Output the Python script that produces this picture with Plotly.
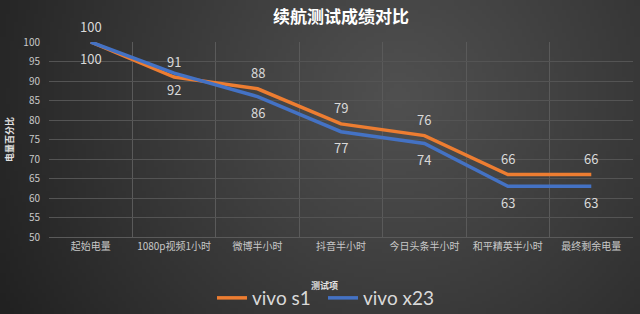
import plotly.graph_objects as go
import zlib, struct, base64, math

categories = ["起始电量", "1080p视频1小时", "微博半小时", "抖音半小时", "今日头条半小时", "和平精英半小时", "最终剩余电量"]
vivo_s1 = [100, 91, 88, 79, 76, 66, 66]
vivo_x23 = [100, 92, 86, 77, 74, 63, 63]
y_ticks = [50, 55, 60, 65, 70, 75, 80, 85, 90, 95, 100]

# background radial gradient as a small PNG
def make_png(w, h):
    rows = b""
    cx, cy = 0.62 * w, 0.30 * h
    inner = (80, 80, 80)
    outer = (32, 32, 32)
    maxd = math.hypot(w * 0.62, h * 0.75)
    for j in range(h):
        row = b"\x00"
        for i in range(w):
            d = math.hypot((i - cx), (j - cy) * (w / h) * 0.5) / maxd
            t = min(1.0, d)
            t = t ** 1.1
            c = [int(inner[k] + (outer[k] - inner[k]) * t) for k in range(3)]
            row += bytes(c)
        rows += row
    def chunk(tag, data):
        return struct.pack(">I", len(data)) + tag + data + struct.pack(">I", zlib.crc32(tag + data) & 0xffffffff)
    png = b"\x89PNG\r\n\x1a\n"
    png += chunk(b"IHDR", struct.pack(">IIBBBBB", w, h, 8, 2, 0, 0, 0))
    png += chunk(b"IDAT", zlib.compress(rows, 9))
    png += chunk(b"IEND", b"")
    return "data:image/png;base64," + base64.b64encode(png).decode()

bg = make_png(160, 80)

font_cjk = "Noto Sans CJK SC"
PW, PH, L, T = 584, 195, 49, 42

fig = go.Figure()
fig.add_trace(go.Scatter(x=categories, y=vivo_s1, mode="lines", name="vivo s1",
                         line=dict(color="#ED7D31", width=3.5)))
fig.add_trace(go.Scatter(x=categories, y=vivo_x23, mode="lines", name="vivo x23",
                         line=dict(color="#4472C4", width=3.5)))

annotations = []
for c, v in zip(categories, vivo_s1):
    annotations.append(dict(x=c, y=v, xref="x", yref="y", text=str(v), showarrow=False,
                            yshift=16, font=dict(size=13, color="#d9d9d9", family=font_cjk)))
for c, v in zip(categories, vivo_x23):
    annotations.append(dict(x=c, y=v, xref="x", yref="y", text=str(v), showarrow=False,
                            yshift=-16, font=dict(size=13, color="#d9d9d9", family=font_cjk)))
annotations.append(dict(x=(324 - L) / PW, y=-(285 - 237) / PH, xref="paper", yref="paper",
                        text="<b>测试项</b>", showarrow=False, xanchor="center", yanchor="middle",
                        font=dict(size=9, color="#e0e0e0", family=font_cjk)))

fig.update_layout(
    width=640, height=314,
    margin=dict(l=L, r=7, t=T, b=77, autoexpand=False),
    paper_bgcolor="#333333",
    plot_bgcolor="rgba(0,0,0,0)",
    images=[dict(source=bg, xref="paper", yref="paper", x=-L/PW, y=1 + T/PH,
                 sizex=640/PW, sizey=314/PH, sizing="stretch", layer="below",
                 xanchor="left", yanchor="top")],
    title=dict(text="<b>续航测试成绩对比</b>", x=0.5, xref="paper", xanchor="center",
               y=1 - 17/314, yref="container", yanchor="middle",
               font=dict(size=17, color="#ffffff", family=font_cjk)),
    xaxis=dict(tickson="boundaries", showgrid=True, gridcolor="#5a5a5a", gridwidth=1,
               showline=True, linecolor="#5a5a5a", ticks="",
               tickfont=dict(size=10, color="#c8c8c8", family=font_cjk),
               range=[-0.5, 6.5], fixedrange=True),
    yaxis=dict(range=[50, 100], tickvals=y_ticks, showgrid=True, gridcolor="#545454",
               gridwidth=1, zeroline=False, ticks="", ticklabelstandoff=8,
               tickfont=dict(size=10, color="#c8c8c8", family=font_cjk),
               title=dict(text="<b>电量百分比</b>", standoff=8,
                          font=dict(size=9, color="#e0e0e0", family=font_cjk))),
    legend=dict(orientation="h", x=(212 - L) / PW, xanchor="left", y=-(298 - 237) / PH,
                yanchor="middle", font=dict(size=19, color="#d9d9d9", family="Lato"),
                bgcolor="rgba(0,0,0,0)", itemwidth=30, tracegroupgap=0, entrywidth=66),
    annotations=annotations,
    showlegend=True,
)

fig.write_html("out.html")
